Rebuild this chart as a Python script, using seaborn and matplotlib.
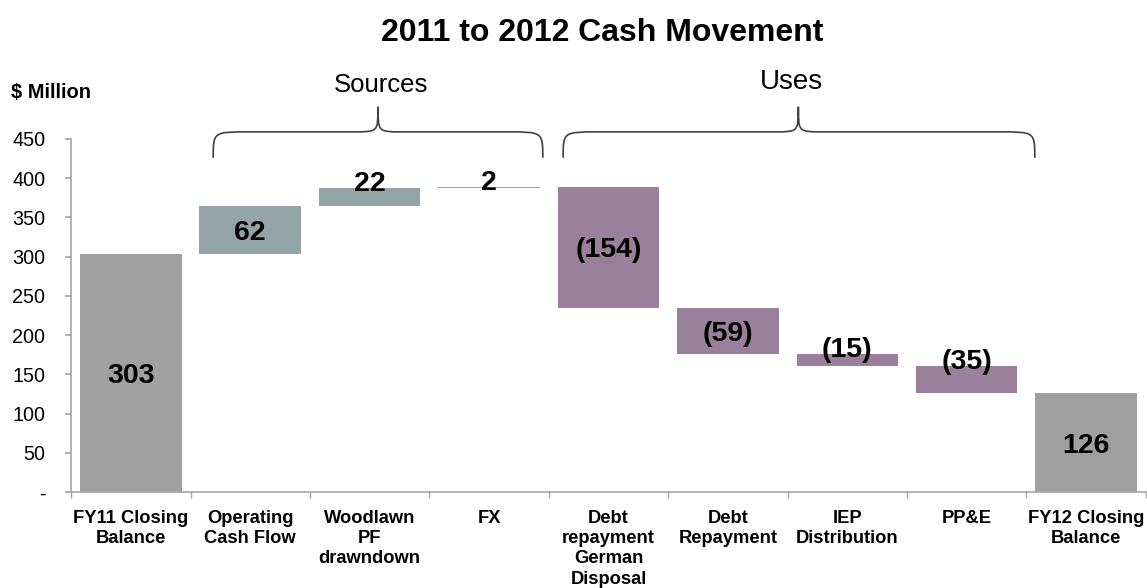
import matplotlib
matplotlib.use("Agg")
import matplotlib.pyplot as plt
from matplotlib.path import Path
from matplotlib.patches import PathPatch
from matplotlib.ticker import FixedLocator
import seaborn as sns
import numpy as np

sns.set_theme(style="white")
plt.rcParams["font.family"] = ["Liberation Sans", "DejaVu Sans"]
plt.rcParams["text.color"] = "black"
plt.rcParams["xtick.labelcolor"] = "black"
plt.rcParams["ytick.labelcolor"] = "black"

# Waterfall data ($ Million)
categories = ["FY11 Closing\nBalance", "Operating\nCash Flow", "Woodlawn\nPF\ndrawndown", "FX",
              "Debt\nrepayment\nGerman\nDisposal", "Debt\nRepayment", "IEP\nDistribution",
              "PP&E", "FY12 Closing\nBalance"]
changes = [303, 62, 22, 2, -154, -59, -15, -35, 126]
kinds = ["total", "source", "source", "source", "use", "use", "use", "use", "total"]
value_labels = ["303", "62", "22", "2", "(154)", "(59)", "(15)", "(35)", "126"]
ytick_values = [0, 50, 100, 150, 200, 250, 300, 350, 400, 450]
ytick_labels = ["-", "50", "100", "150", "200", "250", "300", "350", "400", "450"]

colors = {"total": "#a0a0a0", "source": "#93a3a8", "use": "#9a809a"}

# running totals -> bar bottoms and heights
bottoms, heights = [], []
level = 0
for c, k in zip(changes, kinds):
    if k == "total":
        bottoms.append(0)
        heights.append(c)
        level = c
    else:
        new = level + c
        bottoms.append(min(level, new))
        heights.append(abs(c))
        level = new

fig = plt.figure(figsize=(11.47, 5.88), dpi=100)
ax = fig.add_axes([0.062, 0.163, 0.937, 0.6007])

sns.barplot(x=list(range(len(categories))), y=heights, bottom=bottoms,
            color="#a0a0a0", width=0.85, saturation=1, ax=ax)
for patch, k in zip(ax.patches, kinds):
    patch.set_facecolor(colors[k])
    patch.set_edgecolor("none")

ax.set_xlim(-0.5, len(categories) - 0.5)
ax.set_ylim(0, 450)

# value labels: centred in tall bars, sitting on the top of thin ones
for i, (b, h, lab) in enumerate(zip(bottoms, heights, value_labels)):
    y = b + h / 2 if h >= 40 else b + h + 9
    ax.text(i, y, lab, ha="center", va="center_baseline", fontsize=20.5,
            fontweight="bold", color="black")

# axes styling
for s in ["top", "right"]:
    ax.spines[s].set_visible(False)
for s in ["left", "bottom"]:
    ax.spines[s].set_color("#a6a6a6")
    ax.spines[s].set_linewidth(1.2)

ax.set_yticks(ytick_values)
ax.set_yticklabels(ytick_labels, fontsize=14.2)
ax.tick_params(axis="y", which="major", left=True, length=4.5, color="#a6a6a6", pad=14)
ax.set_xticks(range(len(categories)))
ax.set_xticklabels(categories, fontsize=13.2, fontweight="bold", linespacing=1.24)
ax.tick_params(axis="x", which="major", length=0, pad=13)
ax.xaxis.set_minor_locator(FixedLocator(np.arange(-0.5, len(categories), 1.0)))
ax.tick_params(axis="x", which="minor", bottom=True, length=4.5, color="#a6a6a6")
ax.set_xlabel("")
ax.set_ylabel("")


def brace(ax, x0, x1, xm, y_end, y_line, y_tip, r_end=0.3, r_mid=0.2):
    verts = [
        (x0, y_end),
        (x0, y_line), (x0, y_line), (x0 + r_end, y_line),
        (xm - r_mid, y_line),
        (xm, y_line), (xm, y_line), (xm, y_tip),
        (xm, y_line), (xm, y_line), (xm + r_mid, y_line),
        (x1 - r_end, y_line),
        (x1, y_line), (x1, y_line), (x1, y_end),
    ]
    codes = [Path.MOVETO,
             Path.CURVE4, Path.CURVE4, Path.CURVE4,
             Path.LINETO,
             Path.CURVE4, Path.CURVE4, Path.CURVE4,
             Path.CURVE4, Path.CURVE4, Path.CURVE4,
             Path.LINETO,
             Path.CURVE4, Path.CURVE4, Path.CURVE4]
    ax.add_patch(PathPatch(Path(verts, codes), facecolor="none", edgecolor="#404040",
                           linewidth=1.2, clip_on=False))


brace(ax, 0.69, 3.45, 2.07, 426, 459, 491)
brace(ax, 3.62, 7.57, 5.59, 426, 459, 491)
ax.text(2.091, 510, "Sources", ha="center", va="baseline", fontsize=18.5, color="black", clip_on=False)
ax.text(5.53, 513, "Uses", ha="center", va="baseline", fontsize=20, color="black", clip_on=False)

fig.text(0.5253, 0.930, "2011 to 2012 Cash Movement", ha="center", va="baseline",
         fontsize=23, fontweight="bold")
fig.text(0.010, 0.833, "$ Million", ha="left", va="baseline", fontsize=14.5, fontweight="bold")

fig.savefig("out.png", dpi=100)
